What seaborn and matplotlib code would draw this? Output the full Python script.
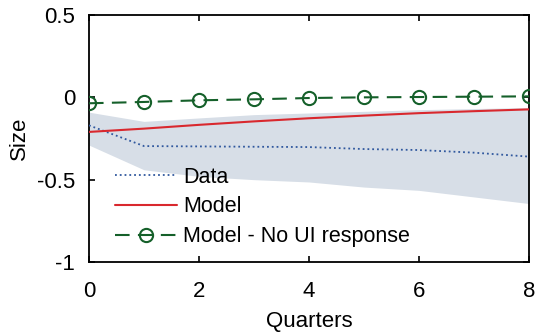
import numpy as np
import pandas as pd
import matplotlib
matplotlib.use("Agg")
import matplotlib.pyplot as plt
import seaborn as sns

quarters = [0, 1, 2, 3, 4, 5, 6, 7, 8]
data_vals = [-0.17, -0.296, -0.298, -0.300, -0.302, -0.314, -0.320, -0.336, -0.360]
band_upper = [-0.09, -0.146, -0.125, -0.105, -0.095, -0.085, -0.075, -0.068, -0.062]
band_lower = [-0.29, -0.44, -0.48, -0.50, -0.514, -0.545, -0.565, -0.605, -0.645]
model_vals = [-0.21, -0.19, -0.167, -0.146, -0.127, -0.111, -0.096, -0.084, -0.073]
noui_vals = [-0.036, -0.028, -0.018, -0.012, -0.004, 0.0, 0.002, 0.004, 0.006]
xticks = [0, 2, 4, 6, 8]
yticks = [-1, -0.5, 0, 0.5]
ytick_labels = ["-1", "-0.5", "0", "0.5"]

sns.set_style("ticks")
plt.rcParams['font.family'] = ['Liberation Sans', 'DejaVu Sans']
plt.rcParams['axes.unicode_minus'] = False
plt.rcParams['text.color'] = 'black'
plt.rcParams['axes.labelcolor'] = 'black'
plt.rcParams['xtick.color'] = 'black'
plt.rcParams['ytick.color'] = 'black'

df = pd.DataFrame({"q": quarters, "data": data_vals, "model": model_vals, "noui": noui_vals})

fig = plt.figure(figsize=(5.36, 3.34), dpi=100)
ax = fig.add_axes([0.166, 0.2156, 0.821, 0.7394])

ax.fill_between(quarters, band_lower, band_upper, color="#d7dee7", linewidth=0, zorder=1)
sns.lineplot(data=df, x="q", y="data", ax=ax, color="#30589e", linestyle=":", linewidth=1.3,
             label="Data", zorder=3)
sns.lineplot(data=df, x="q", y="model", ax=ax, color="#d9282e", linewidth=1.5,
             label="Model", zorder=3)
sns.lineplot(data=df, x="q", y="noui", ax=ax, color="#15602a", linewidth=1.5,
             marker="o", markersize=9.5, markerfacecolor="none", markeredgecolor="#15602a",
             markeredgewidth=1.5, label="Model - No UI response", zorder=4)
ax.lines[-1].set_dashes((7, 4))

ax.set_xlim(0, 8)
ax.set_ylim(-1, 0.5)
ax.set_xticks(xticks)
ax.set_yticks(yticks)
ax.set_yticklabels(ytick_labels)
ax.tick_params(direction="in", top=True, right=True, length=4, width=1.2, labelsize=16,
               colors="black")
ax.tick_params(axis="x", pad=14)
ax.tick_params(axis="y", pad=10)
for s in ax.spines.values():
    s.set_visible(True)
    s.set_linewidth(1.3)
    s.set_color("black")
ax.set_xlabel("Quarters", fontsize=16, labelpad=6, color="black")
ax.set_ylabel("Size", fontsize=16, labelpad=5, color="black")

leg = ax.legend(loc="upper left", bbox_to_anchor=(0.039, 0.42), frameon=False, fontsize=15.5,
                handlelength=2.9, handletextpad=0.28, labelspacing=0.4, borderaxespad=0.0)
for t in leg.get_texts():
    t.set_color("black")

fig.savefig("out.png", dpi=100)
